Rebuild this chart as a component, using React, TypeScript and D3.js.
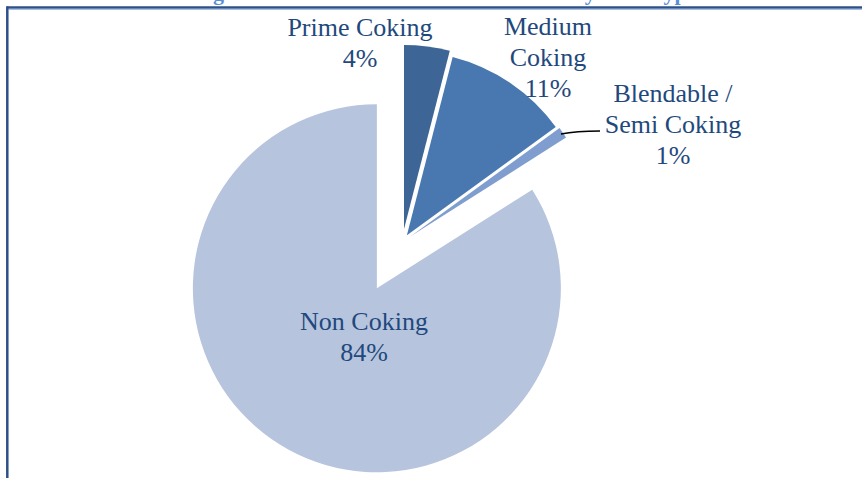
import React from "react";
import * as d3 from "d3";

const categories = ["Prime Coking", "Medium Coking", "Blendable / Semi Coking", "Non Coking"];
const shares = [4, 11, 1, 84];
const labelLines = [
  ["Prime Coking", "4%"],
  ["Medium", "Coking", "11%"],
  ["Blendable /", "Semi Coking", "1%"],
  ["Non Coking", "84%"],
];
const titleText = "Figure 1: Overview of Reserves in India by Coal Type";

// layout / style (not data)
const W = 862, H = 478;
const CX = 402.4, CY = 241.8, R = 184;
const explode = [13, 8, 10, 53];
const colors = ["#3D6595", "#4977B0", "#7F9ECF", "#B6C4DE"];
const labelAnchor = [
  { x: 360, y: 36 },
  { x: 548, y: 35 },
  { x: 673, y: 102 },
  { x: 364, y: 330 },
];
const lineGap = 31;

export default function App() {
  const pie = d3.pie<number>().sort(null).value((d) => d).startAngle(0).endAngle(2 * Math.PI);
  const arcs = pie(shares);
  const arc = d3.arc<d3.PieArcDatum<number>>().innerRadius(0).outerRadius(R);

  return (
    <svg
      width={W}
      height={H}
      style={{ position: "absolute", left: 0, top: 0, background: "#fff" }}
      fontFamily="'Liberation Serif', 'Times New Roman', serif"
    >
      <rect x={0} y={0} width={W} height={H} fill="#fff" />
      <text x={445} y={-0.5} textAnchor="middle" fontSize={22} fontWeight="bold" fill="#5B8FD6">
        {titleText}
      </text>
      {/* frame */}
      <line x1={7} y1={7.5} x2={W} y2={7.5} stroke="#2E5088" strokeWidth={2.5} />
      <line x1={8.5} y1={9.3} x2={W} y2={9.3} stroke="#8FB0DC" strokeWidth={1} />
      <line x1={7.3} y1={6.3} x2={7.3} y2={H} stroke="#2E5088" strokeWidth={2.5} />

      {arcs.map((a, i) => {
        const mid = (a.startAngle + a.endAngle) / 2;
        const dx = CX + explode[i] * Math.sin(mid);
        const dy = CY - explode[i] * Math.cos(mid);
        return (
          <path
            key={categories[i]}
            d={arc(a) || ""}
            transform={`translate(${dx},${dy})`}
            fill={colors[i]}
          />
        );
      })}

      {/* leader line for the small slice */}
      <path d="M561,134 Q576,131 600,131" fill="none" stroke="#000" strokeWidth={1.6} />

      {labelLines.map((lines, i) => (
        <text
          key={categories[i]}
          textAnchor="middle"
          fontSize={26}
          fill="#1F497D"
        >
          {lines.map((ln, j) => (
            <tspan key={j} x={labelAnchor[i].x} y={labelAnchor[i].y + j * lineGap}>
              {ln}
            </tspan>
          ))}
        </text>
      ))}
    </svg>
  );
}
